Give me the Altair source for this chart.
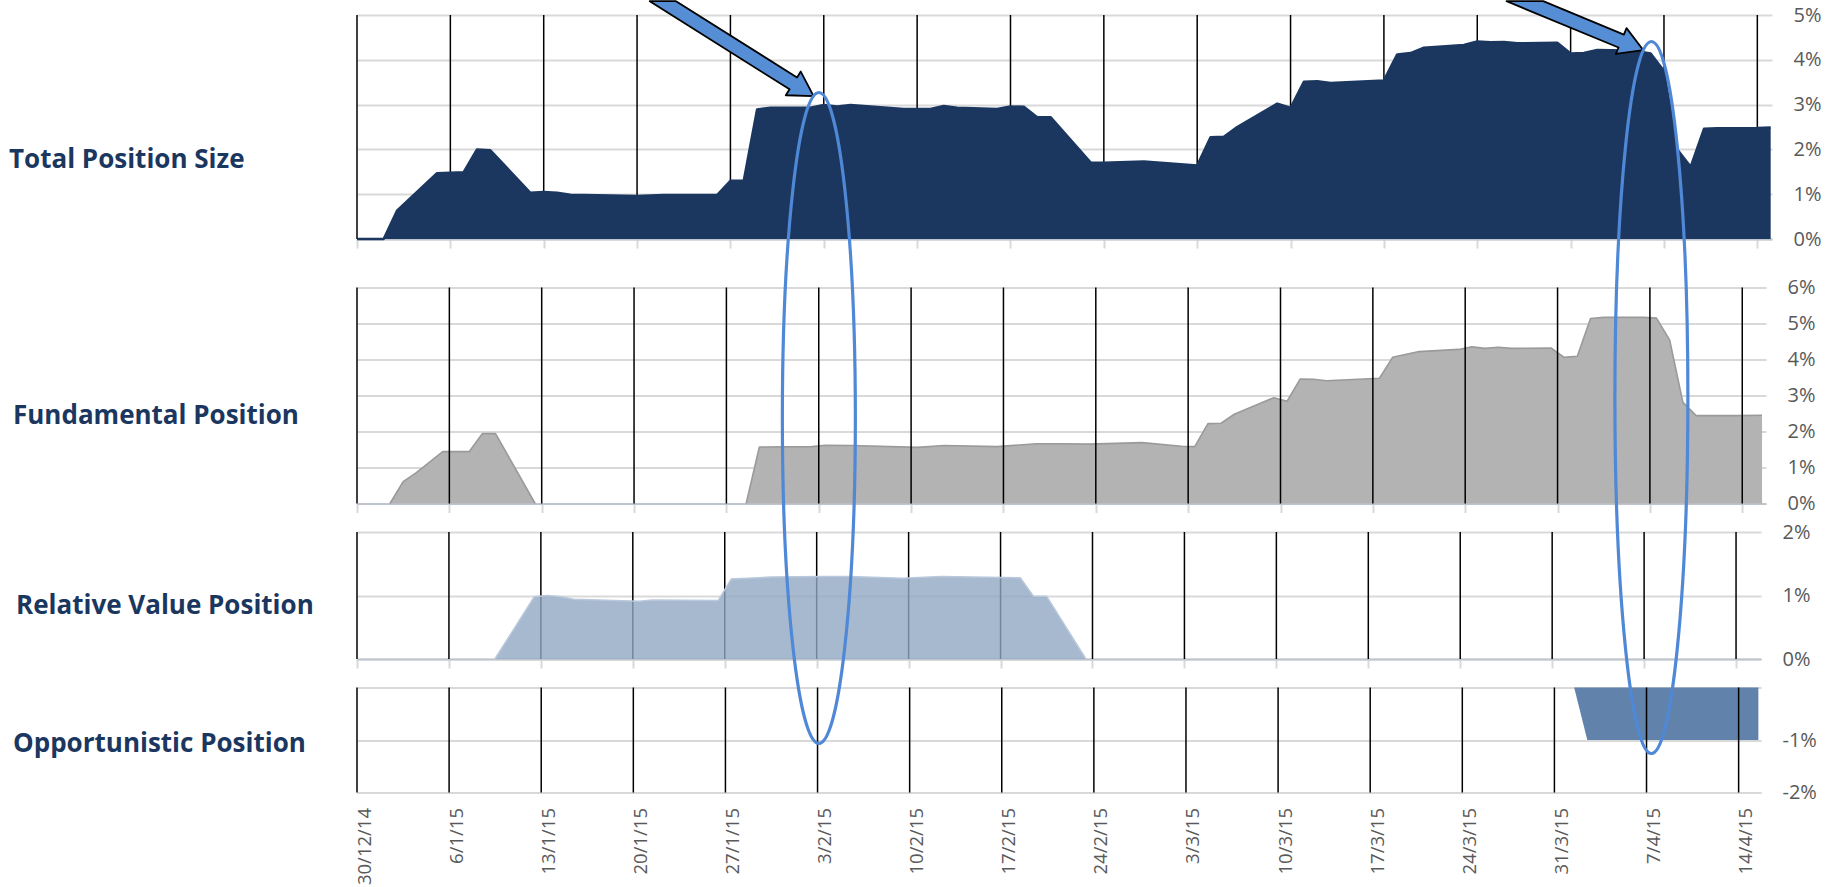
import altair as alt
import numpy as np
import pandas as pd

# ---------------- data ----------------
week_ticks = ["2014-12-30", "2015-01-06", "2015-01-13", "2015-01-20", "2015-01-27",
              "2015-02-03", "2015-02-10", "2015-02-17", "2015-02-24", "2015-03-03",
              "2015-03-10", "2015-03-17", "2015-03-24", "2015-03-31", "2015-04-07",
              "2015-04-14"]

total_dates = ["2014-12-30", "2015-01-01", "2015-01-02", "2015-01-05", "2015-01-07", "2015-01-08",
               "2015-01-09", "2015-01-12", "2015-01-13", "2015-01-14", "2015-01-15", "2015-01-20",
               "2015-01-22", "2015-01-26", "2015-01-27", "2015-01-28", "2015-01-29", "2015-01-30",
               "2015-02-02", "2015-02-03", "2015-02-04", "2015-02-05", "2015-02-09", "2015-02-11",
               "2015-02-12", "2015-02-13", "2015-02-16", "2015-02-17", "2015-02-18", "2015-02-19",
               "2015-02-20", "2015-02-23", "2015-02-24", "2015-02-27", "2015-03-03", "2015-03-04",
               "2015-03-05", "2015-03-06", "2015-03-09", "2015-03-10", "2015-03-11", "2015-03-12",
               "2015-03-13", "2015-03-17", "2015-03-18", "2015-03-19", "2015-03-20", "2015-03-23",
               "2015-03-24", "2015-03-25", "2015-03-26", "2015-03-27", "2015-03-30", "2015-03-31",
               "2015-04-01", "2015-04-02", "2015-04-04", "2015-04-05", "2015-04-06", "2015-04-07",
               "2015-04-08", "2015-04-09", "2015-04-10", "2015-04-11", "2015-04-14", "2015-04-15"]
total_vals = [0, 0, 0.63, 1.47, 1.49, 2.00, 1.98, 1.03, 1.05, 1.03, 0.99, 0.96,
              0.98, 0.98, 1.30, 1.30, 2.89, 2.93, 2.93, 2.99, 2.96, 2.99, 2.90, 2.90,
              2.97, 2.93, 2.90, 2.96, 2.95, 2.72, 2.72, 1.71, 1.70, 1.73, 1.64, 2.27,
              2.28, 2.50, 3.02, 2.93, 3.51, 3.52, 3.48, 3.54, 4.12, 4.15, 4.27, 4.33,
              4.41, 4.39, 4.40, 4.37, 4.38, 4.14, 4.15, 4.22, 4.21, 4.19, 4.14, 3.75,
              2.00, 1.61, 2.46, 2.47, 2.48, 2.49]

fund_dates = ["2014-12-30", "2015-01-01", "2015-01-02", "2015-01-03", "2015-01-05", "2015-01-07",
              "2015-01-08", "2015-01-09", "2015-01-12", "2015-01-28", "2015-01-29", "2015-02-02",
              "2015-02-03", "2015-02-05", "2015-02-10", "2015-02-12", "2015-02-16", "2015-02-19",
              "2015-02-21", "2015-02-23", "2015-02-27", "2015-03-02", "2015-03-03", "2015-03-04",
              "2015-03-05", "2015-03-06", "2015-03-09", "2015-03-10", "2015-03-11", "2015-03-12",
              "2015-03-13", "2015-03-17", "2015-03-18", "2015-03-20", "2015-03-23", "2015-03-24",
              "2015-03-25", "2015-03-26", "2015-03-27", "2015-03-30", "2015-03-31", "2015-04-01",
              "2015-04-02", "2015-04-03", "2015-04-06", "2015-04-07", "2015-04-08", "2015-04-09",
              "2015-04-10", "2015-04-13", "2015-04-15"]
fund_vals = [0, 0, 0.61, 0.86, 1.44, 1.44, 1.94, 1.94, 0, 0, 1.57, 1.58,
             1.62, 1.61, 1.56, 1.61, 1.58, 1.66, 1.66, 1.65, 1.69, 1.59, 1.58, 2.22,
             2.23, 2.48, 2.94, 2.84, 3.46, 3.45, 3.41, 3.48, 4.06, 4.22, 4.28, 4.35,
             4.31, 4.34, 4.31, 4.32, 4.06, 4.09, 5.14, 5.17, 5.17, 5.15, 4.54, 2.81,
             2.44, 2.44, 2.45]

rv_dates = ["2014-12-30", "2015-01-09", "2015-01-12", "2015-01-13", "2015-01-14", "2015-01-15",
            "2015-01-20", "2015-01-21", "2015-01-26", "2015-01-27", "2015-01-30", "2015-02-03",
            "2015-02-05", "2015-02-09", "2015-02-12", "2015-02-18", "2015-02-19", "2015-02-20",
            "2015-02-23", "2015-04-15"]
rv_vals = [0, 0, 0.98, 1.00, 0.98, 0.94, 0.91, 0.93, 0.92, 1.26, 1.29, 1.30,
           1.30, 1.27, 1.30, 1.28, 0.99, 0.99, 0, 0]

opp_dates = ["2014-12-30", "2015-04-01", "2015-04-02", "2015-04-15"]
opp_vals = [0, 0, -1.0, -1.0]

panel_titles = ["Total Position Size", "Fundamental Position",
                "Relative Value Position", "Opportunistic Position"]

# annotation anchors (in the bottom panel's scales): arrow tips and ellipse centres
arrow_dates = ["2015-02-02T16:48", "2015-04-06T18:15"]
arrow_vals = [11.263, 12.139]
ellipse_dates = ["2015-02-03T02:24", "2015-04-07T08:53"]
ellipse_vals = [5.133, 5.524]

# ---------------- helpers ----------------
DAY = 24 * 3600 * 1000
HALF = DAY // 2


def to_ms(dates, shift=0):
    return [int(pd.Timestamp(d).tz_localize("UTC").value // 1_000_000) + shift for d in dates]


X0 = to_ms(["2014-12-30"])[0]
tick_ms = to_ms(week_ticks)

NAVY = "#1B375F"
GRID = "#D9D9D9"
LAB = "#595959"
PCT = "datum.value + '%'"


def xscale(end_days):
    return alt.Scale(type="utc", domain=[X0, X0 + int(end_days * DAY)], nice=False)


def xaxis_plain():
    return alt.Axis(values=tick_ms, labels=False, ticks=True, tickColor=GRID, tickSize=9,
                    tickWidth=2, domain=True, domainColor="#BFC5CF", domainWidth=2,
                    grid=False, title=None)


xaxis_bottom = alt.Axis(values=tick_ms, format="%-d/%-m/%y", labelAngle=-90,
                        labelFont="Open Sans", labelFontSize=18.5, labelColor=LAB,
                        labelPadding=15, labelOffset=7, labelFlush=False, labelOverlap=False,
                        ticks=False, domain=True, domainColor=GRID, domainWidth=2,
                        grid=False, title=None)


def yaxis(values, expr=PCT):
    return alt.Axis(orient="right", values=values, labelExpr=expr, domain=False, ticks=False,
                    labelPadding=21, labelFontSize=20, labelFont="Open Sans", labelColor=LAB,
                    labelFlush=False, labelOverlap=False, grid=True, gridColor=GRID,
                    gridWidth=2, title=None)


def yscale(ydom):
    return alt.Scale(domain=ydom, nice=False, zero=True)


def rules(sc, ax, width=1.5):
    df = pd.DataFrame({"t": tick_ms})
    return alt.Chart(df).mark_rule(color="black", strokeWidth=width).encode(
        x=alt.X("t:T", scale=sc, axis=ax))


def title_layer(text, x, y):
    df = pd.DataFrame({"label": [text]})
    return alt.Chart(df).mark_text(align="left", baseline="alphabetic", font="Open Sans",
                                   fontWeight="bold", fontSize=26, color=NAVY).encode(
        x=alt.value(x), y=alt.value(y), text="label:N")


def area(dates, vals, sc, ax, ydom, yax, color, opacity=1.0, shift=0):
    df = pd.DataFrame({"t": to_ms(dates, shift), "v": vals})
    return alt.Chart(df).mark_area(color=color, opacity=opacity, interpolate="linear").encode(
        x=alt.X("t:T", scale=sc, axis=ax),
        y=alt.Y("v:Q", scale=yscale(ydom), axis=yax))


def edge_line(dates, vals, sc, ax, ydom, yax, color, width, shift=0, skip_zero_runs=True):
    """Outline along the top of an area; segments lying flat on zero are broken off."""
    ts = to_ms(dates, shift)
    rows = []
    for i, (t, v) in enumerate(zip(ts, vals)):
        if skip_zero_runs and i > 0 and v == 0 and vals[i - 1] == 0:
            rows.append({"t": (t + ts[i - 1]) / 2, "v": None})
        rows.append({"t": t, "v": v})
    df = pd.DataFrame(rows)
    return alt.Chart(df).mark_line(color=color, strokeWidth=width, interpolate="linear",
                                   strokeJoin="round").encode(
        x=alt.X("t:T", scale=sc, axis=ax), y=alt.Y("v:Q", scale=yscale(ydom), axis=yax))


# ---------------- panel 1 ----------------
sc1 = xscale(106.1)
ax1 = xaxis_plain()
ya1 = yaxis([0, 1, 2, 3, 4, 5])
p1 = alt.layer(
    rules(sc1, ax1),
    area(total_dates, total_vals, sc1, ax1, [0, 5], ya1, NAVY),
    edge_line(total_dates, total_vals, sc1, ax1, [0, 5], ya1, NAVY, 2.5, skip_zero_runs=False),
    title_layer(panel_titles[0], -348, 153),
).properties(width=1415, height=224)

# ---------------- panel 2 ----------------
sc2 = xscale(106.8)
ax2 = xaxis_plain()
ya2 = yaxis([0, 1, 2, 3, 4, 5, 6])
p2 = alt.layer(
    area(fund_dates, fund_vals, sc2, ax2, [0, 6], ya2, "#B3B3B3", shift=HALF),
    edge_line(fund_dates, fund_vals, sc2, ax2, [0, 6], ya2, "#9A9A9A", 1.6, shift=HALF),
    rules(sc2, ax2),
    title_layer(panel_titles[1], -344, 136),
).properties(width=1409, height=216)

# ---------------- panel 3 ----------------
sc3 = xscale(106.9)
ax3 = xaxis_plain()
ya3 = yaxis([0, 1, 2])
p3 = alt.layer(
    rules(sc3, ax3),
    area(rv_dates, rv_vals, sc3, ax3, [0, 2], ya3, "#90A8C3", opacity=0.8, shift=HALF),
    edge_line(rv_dates, rv_vals, sc3, ax3, [0, 2], ya3, "#B9C8DB", 1.5, shift=HALF),
    title_layer(panel_titles[2], -341, 82),
).properties(width=1404, height=127)

# ---------------- panel 4 (with annotations) ----------------
sc4 = xscale(106.7)
ax4 = xaxis_bottom
ya4 = yaxis([-2, -1, 0], "datum.value == 0 ? '' : datum.value + '%'")
ysc4 = yscale([-2, 0])


def arrow_path(dx, dy, w=7.0, h=14.0, hl=24.0):
    L = np.hypot(dx, dy)
    u = np.array([-dx, -dy]) / L
    n = np.array([-u[1], u[0]])
    B = hl * u
    pts = [np.zeros(2), B + h * n, B + w * n]
    for s in (w, -w):
        P0 = B + s * n
        t = (-dy - P0[1]) / u[1]
        pts.append(P0 + t * u)
    pts += [B - w * n, B - h * n]
    return "M " + " L ".join(f"{p[0]:.2f} {p[1]:.2f}" for p in pts) + " Z"


def ellipse_path(a, b):
    return f"M {-a} 0 A {a} {b} 0 1 0 {a} 0 A {a} {b} 0 1 0 {-a} 0 Z"


arrow_shapes = [arrow_path(150.7, 95.0), arrow_path(118.5, 49.0)]
ellipse_shapes = [ellipse_path(36.5, 325.5), ellipse_path(36.5, 356.0)]

annot_layers = []
for i in range(2):
    df = pd.DataFrame({"t": to_ms([arrow_dates[i]]), "v": [arrow_vals[i]]})
    annot_layers.append(
        alt.Chart(df).mark_point(shape=arrow_shapes[i], size=4, filled=True, fill="#558ED5",
                                 stroke="black", strokeWidth=1.8, strokeJoin="round",
                                 opacity=1, clip=False).encode(
            x=alt.X("t:T", scale=sc4, axis=ax4), y=alt.Y("v:Q", scale=ysc4, axis=ya4)))
for i in range(2):
    df = pd.DataFrame({"t": to_ms([ellipse_dates[i]]), "v": [ellipse_vals[i]]})
    annot_layers.append(
        alt.Chart(df).mark_point(shape=ellipse_shapes[i], size=4, filled=False,
                                 stroke="#4F88D6", strokeWidth=3.2, opacity=1, clip=False).encode(
            x=alt.X("t:T", scale=sc4, axis=ax4), y=alt.Y("v:Q", scale=ysc4, axis=ya4)))

p4 = alt.layer(
    area(opp_dates, opp_vals, sc4, ax4, [-2, 0], ya4, "#6182AA", shift=HALF),
    rules(sc4, ax4),
    title_layer(panel_titles[3], -344, 64),
    *annot_layers,
).properties(width=1404, height=105)

inner = alt.vconcat(p2, p3, p4, spacing=28.5, bounds="flush")
chart = alt.vconcat(p1, inner, spacing=48.5, bounds="flush").properties(
    padding={"left": 9, "top": 0, "right": 0, "bottom": 0}
).configure_view(stroke=None)

chart.save("out.html", embed_options={"renderer": "svg", "actions": False})
